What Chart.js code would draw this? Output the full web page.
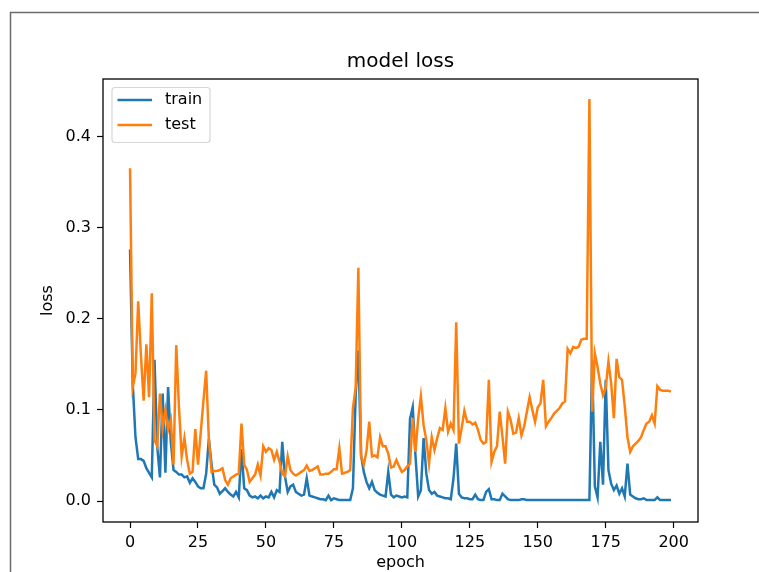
<!DOCTYPE html>
<html>
<head>
<meta charset="utf-8">
<script src="https://cdn.jsdelivr.net/npm/chart.js@4/dist/chart.umd.min.js"></script>
<style>
  html, body { margin: 0; padding: 0; background: #fff; }
  #wrap { position: relative; width: 759px; height: 572px; }
</style>
</head>
<body>
<div id="wrap"><canvas id="grafica" width="759" height="572"></canvas></div>
<script>
// loss per epoch
const train = [
  0.276, 0.128, 0.070, 0.046, 0.046, 0.044, 0.036, 0.031, 0.026, 0.155,
  0.060, 0.026, 0.118, 0.031, 0.125, 0.065, 0.034, 0.032, 0.029, 0.029,
  0.026, 0.027, 0.020, 0.025, 0.021, 0.016, 0.014, 0.014, 0.030, 0.068,
  0.040, 0.018, 0.015, 0.008, 0.011, 0.014, 0.010, 0.007, 0.005, 0.010,
  0.004, 0.057, 0.014, 0.012, 0.006, 0.004, 0.005, 0.003, 0.006, 0.003,
  0.005, 0.004, 0.010, 0.004, 0.012, 0.010, 0.065, 0.027, 0.010, 0.016,
  0.018, 0.010, 0.008, 0.006, 0.007, 0.025, 0.006, 0.005, 0.004, 0.003,
  0.002, 0.002, 0.001, 0.006, 0.001, 0.003, 0.002, 0.001, 0.001, 0.001,
  0.001, 0.001, 0.014, 0.116, 0.165, 0.050, 0.032, 0.021, 0.014, 0.021,
  0.012, 0.009, 0.007, 0.006, 0.005, 0.032, 0.007, 0.004, 0.006, 0.005,
  0.004, 0.005, 0.004, 0.090, 0.103, 0.050, 0.005, 0.012, 0.069, 0.030,
  0.012, 0.008, 0.010, 0.006, 0.005, 0.004, 0.003, 0.003, 0.002, 0.025,
  0.063, 0.008, 0.004, 0.003, 0.003, 0.002, 0.002, 0.007, 0.002, 0.001,
  0.001, 0.010, 0.013, 0.002, 0.002, 0.001, 0.001, 0.008, 0.005, 0.002,
  0.001, 0.001, 0.001, 0.001, 0.002, 0.002, 0.001, 0.001, 0.001, 0.001,
  0.001, 0.001, 0.001, 0.001, 0.001, 0.001, 0.001, 0.001, 0.001, 0.001,
  0.001, 0.001, 0.001, 0.001, 0.001, 0.001, 0.001, 0.001, 0.001, 0.001,
  0.155, 0.016, 0.004, 0.065, 0.018, 0.133, 0.034, 0.019, 0.012, 0.017,
  0.008, 0.014, 0.005, 0.041, 0.007, 0.005, 0.003, 0.002, 0.002, 0.003,
  0.001, 0.001, 0.001, 0.001, 0.004, 0.001, 0.001, 0.001, 0.001, 0.001
];

const test = [
  0.365, 0.125, 0.140, 0.219, 0.160, 0.110, 0.172, 0.114, 0.228, 0.067,
  0.060, 0.118, 0.080, 0.100, 0.078, 0.089, 0.040, 0.171, 0.103, 0.049,
  0.069, 0.045, 0.030, 0.032, 0.079, 0.040, 0.075, 0.110, 0.143, 0.067,
  0.032, 0.033, 0.033, 0.034, 0.036, 0.023, 0.018, 0.025, 0.027, 0.029,
  0.030, 0.085, 0.040, 0.034, 0.021, 0.025, 0.029, 0.040, 0.028, 0.060,
  0.054, 0.058, 0.056, 0.045, 0.054, 0.043, 0.030, 0.027, 0.049, 0.034,
  0.030, 0.028, 0.030, 0.032, 0.034, 0.039, 0.033, 0.034, 0.036, 0.038,
  0.029, 0.029, 0.030, 0.030, 0.032, 0.035, 0.035, 0.058, 0.030, 0.031,
  0.032, 0.034, 0.102, 0.124, 0.256, 0.049, 0.040, 0.055, 0.087, 0.049,
  0.050, 0.048, 0.070, 0.060, 0.060, 0.052, 0.037, 0.038, 0.045, 0.038,
  0.032, 0.034, 0.038, 0.041, 0.091, 0.054, 0.090, 0.115, 0.083, 0.067,
  0.041, 0.070, 0.056, 0.069, 0.080, 0.078, 0.102, 0.076, 0.085, 0.078,
  0.196, 0.063, 0.080, 0.099, 0.087, 0.087, 0.084, 0.086, 0.078, 0.067,
  0.063, 0.065, 0.133, 0.043, 0.054, 0.060, 0.098, 0.071, 0.041, 0.098,
  0.089, 0.074, 0.075, 0.091, 0.072, 0.082, 0.098, 0.114, 0.100, 0.087,
  0.103, 0.107, 0.133, 0.082, 0.087, 0.091, 0.096, 0.099, 0.102, 0.107,
  0.109, 0.167, 0.162, 0.169, 0.168, 0.169, 0.177, 0.178, 0.178, 0.441,
  0.098, 0.162, 0.147, 0.129, 0.116, 0.124, 0.153, 0.129, 0.091, 0.156,
  0.136, 0.133, 0.104, 0.070, 0.054, 0.060, 0.063, 0.066, 0.070, 0.078,
  0.085, 0.087, 0.094, 0.085, 0.126, 0.122, 0.121, 0.121, 0.121, 0.120
];

const xTicks = [0, 25, 50, 75, 100, 125, 150, 175, 200];
const yTicks = [0, 0.1, 0.2, 0.3, 0.4];
const seriesNames = ['train', 'test'];
const seriesColors = ['#1f77b4', '#ff7f0e'];

const FONT = 'DejaVu Sans';
const toPoints = arr => arr.map((v, i) => ({x: i, y: v}));

// page frame, axes box and the legend in the upper left corner
const decorations = {
  id: 'decorations',
  beforeDraw(chart) {
    const ctx = chart.ctx;
    ctx.save();
    ctx.fillStyle = '#fff';
    ctx.fillRect(0, 0, chart.width, chart.height);
    ctx.strokeStyle = '#6b6b6b';
    ctx.lineWidth = 1.5;
    ctx.beginPath();
    ctx.moveTo(10.5, chart.height);
    ctx.lineTo(10.5, 12.5);
    ctx.lineTo(chart.width, 12.5);
    ctx.stroke();
    ctx.restore();
  },
  afterDraw(chart) {
    const ctx = chart.ctx;
    const a = chart.chartArea;
    ctx.save();
    ctx.strokeStyle = '#000';
    ctx.lineWidth = 1.3;
    ctx.strokeRect(a.left, a.top, a.right - a.left, a.bottom - a.top);

    // legend
    const bx = a.left + 9, by = a.top + 8.5, bw = 98, bh = 55;
    ctx.beginPath();
    if (ctx.roundRect) ctx.roundRect(bx, by, bw, bh, 3); else ctx.rect(bx, by, bw, bh);
    ctx.fillStyle = 'rgba(255,255,255,0.8)';
    ctx.fill();
    ctx.strokeStyle = 'rgba(204,204,204,0.8)';
    ctx.lineWidth = 1.2;
    ctx.stroke();

    ctx.font = '16px "' + FONT + '"';
    ctx.textBaseline = 'middle';
    ctx.textAlign = 'left';
    chart.data.datasets.forEach((ds, i) => {
      const y = by + 12.5 + i * 25;
      ctx.strokeStyle = ds.borderColor;
      ctx.lineWidth = 2.5;
      ctx.beginPath();
      ctx.moveTo(bx + 5.5, y);
      ctx.lineTo(bx + 40, y);
      ctx.stroke();
      ctx.fillStyle = '#000';
      ctx.fillText(ds.label, bx + 53, y);
    });
    ctx.restore();
  }
};

const graph = document.querySelector('#grafica');

const data = {
  datasets: [{
    label: seriesNames[0],
    data: toPoints(train),
    borderColor: seriesColors[0],
    borderWidth: 2.5,
    pointRadius: 0,
    tension: 0,
    order: 1
  }, {
    label: seriesNames[1],
    data: toPoints(test),
    borderColor: seriesColors[1],
    borderWidth: 2.5,
    pointRadius: 0,
    tension: 0,
    order: 0
  }]
};

const config = {
  type: 'line',
  data: data,
  plugins: [decorations],
  options: {
    responsive: false,
    animation: false,
    devicePixelRatio: 1,
    layout: { padding: { left: 0, right: 61, top: 0, bottom: 0 } },
    plugins: {
      legend: { display: false },
      tooltip: { enabled: false },
      title: {
        display: true,
        text: 'model loss',
        fullSize: false,
        color: '#000',
        font: { family: FONT, size: 20, weight: 'normal' },
        padding: { top: 50, bottom: 5 }
      }
    },
    scales: {
      x: {
        type: 'linear',
        min: -9.95,
        max: 208.95,
        afterBuildTicks: s => { s.ticks = xTicks.map(v => ({value: v})); },
        afterFit: s => { s.height = 50; },
        border: { display: false },
        grid: { drawOnChartArea: false, drawTicks: true, tickLength: 6, tickColor: '#000', tickWidth: 1.2 },
        ticks: { color: '#000', font: { family: FONT, size: 16 }, padding: 5, maxRotation: 0, autoSkip: false },
        title: { display: true, text: 'epoch', color: '#000', font: { family: FONT, size: 16 }, padding: { top: 0, bottom: 0 } }
      },
      y: {
        min: -0.023,
        max: 0.463,
        afterBuildTicks: s => { s.ticks = yTicks.map(v => ({value: v})); },
        afterFit: s => { s.width = 103; },
        border: { display: false },
        grid: { drawOnChartArea: false, drawTicks: true, tickLength: 6, tickColor: '#000', tickWidth: 1.2 },
        ticks: { color: '#000', font: { family: FONT, size: 16 }, padding: 6, callback: v => v.toFixed(1) },
        title: { display: true, text: 'loss', color: '#000', font: { family: FONT, size: 16 }, padding: { top: 38, bottom: 0 } }
      }
    }
  }
};

new Chart(graph, config);
</script>
</body>
</html>
